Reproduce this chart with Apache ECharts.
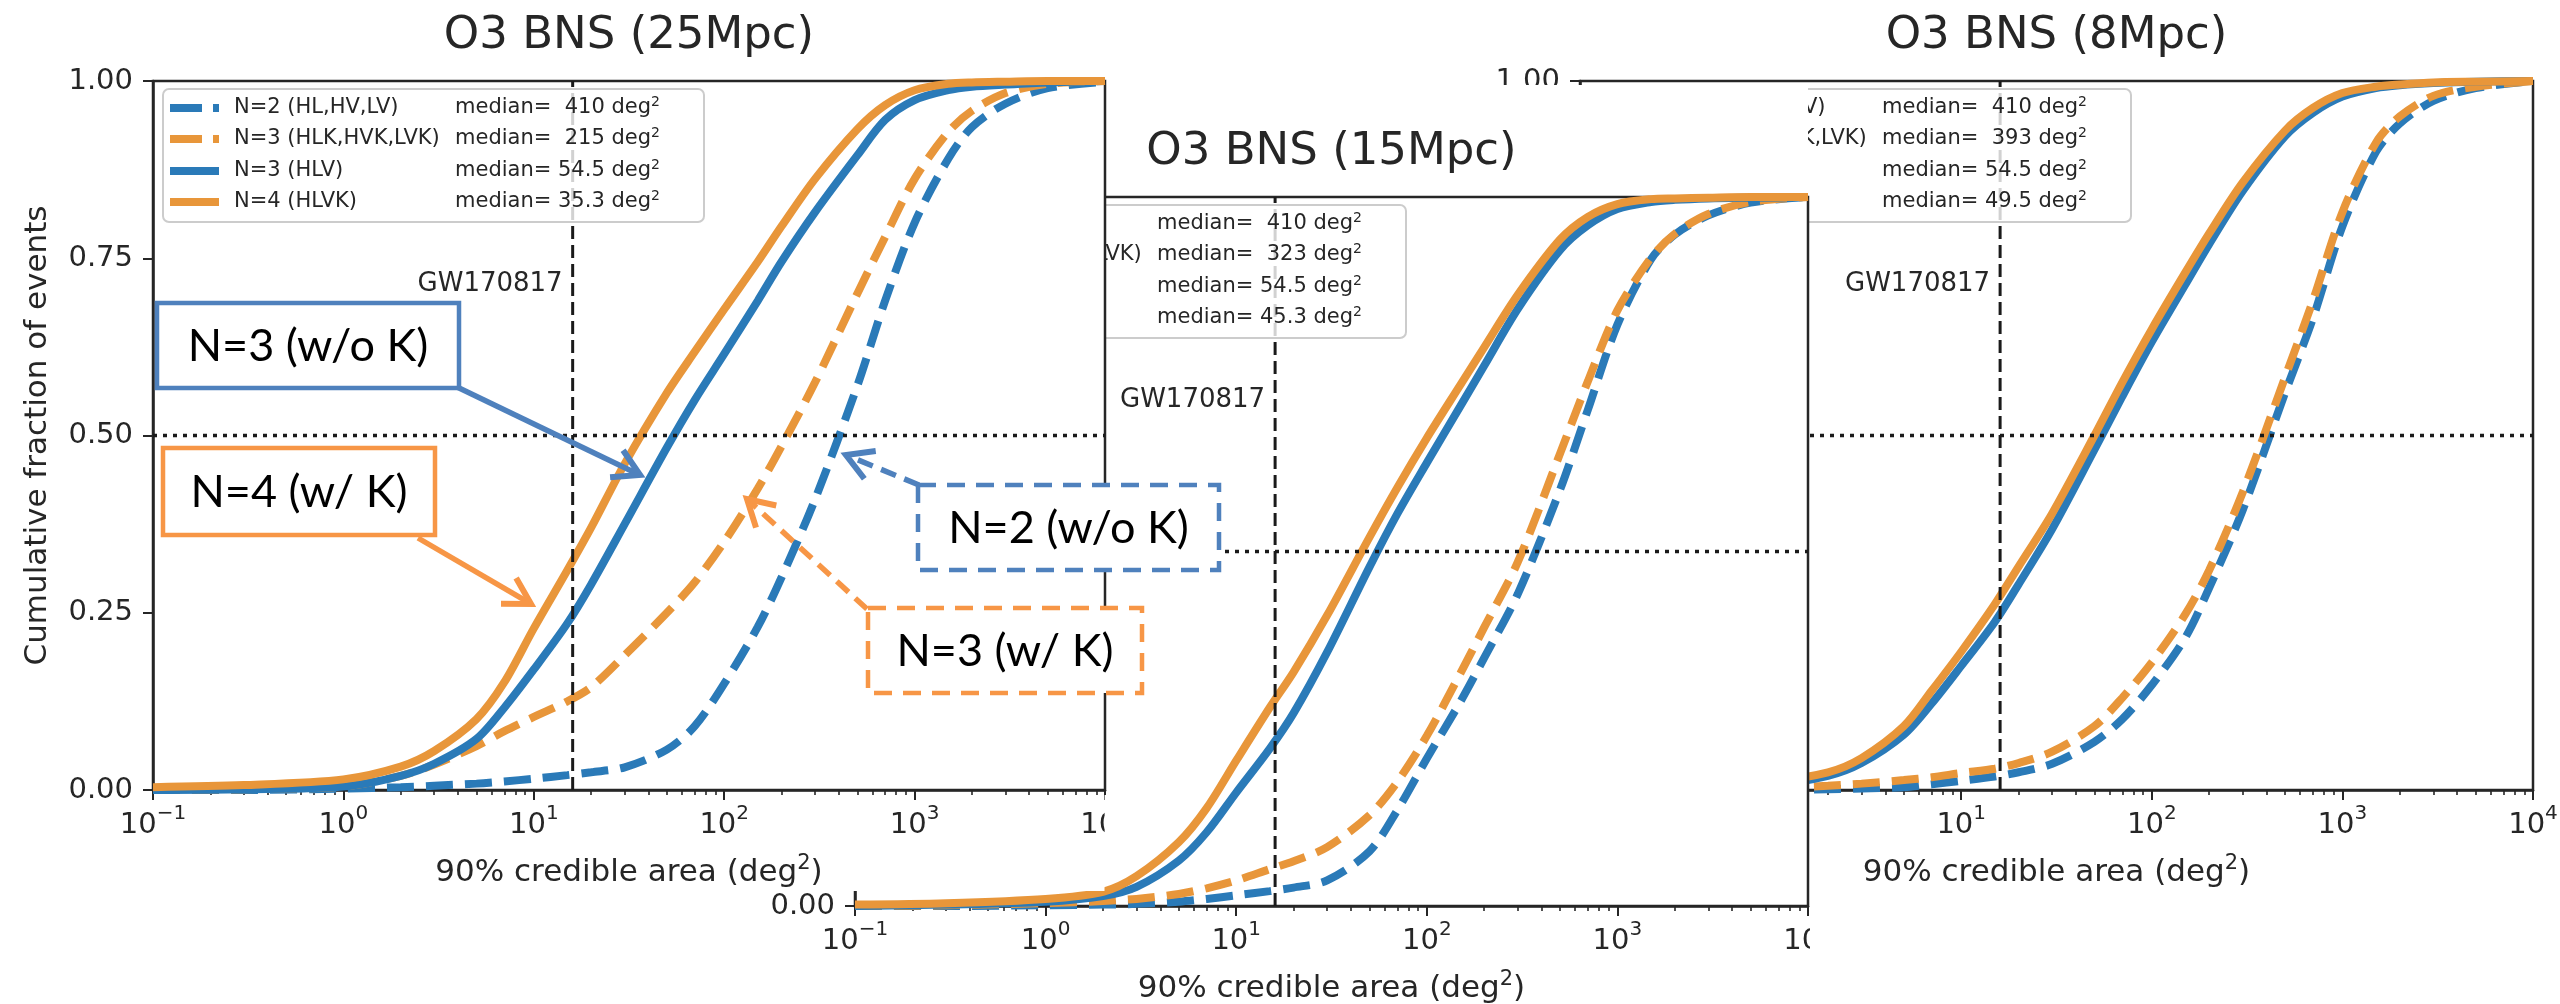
<!DOCTYPE html>
<html><head><meta charset="utf-8">
<script src="https://cdn.jsdelivr.net/npm/echarts@6/dist/echarts.min.js"></script>
<style>html,body{margin:0;padding:0;background:#fff}#c{width:2560px;height:1004px}</style>
</head><body><div id="c"></div>
<script>
// ---------------- data ----------------
const areas = [0.1, 0.3, 1, 2, 3, 5, 7, 10, 15, 20, 30, 50, 70, 100, 150, 200, 300, 500, 700, 1000, 1500, 2000, 3000, 5000, 10000];
const gwArea = 16;
const medianLevel = 0.5;
const titles = ['O3 BNS (25Mpc)', 'O3 BNS (15Mpc)', 'O3 BNS (8Mpc)'];
const legendLabels = ['N=2 (HL,HV,LV)', 'N=3 (HLK,HVK,LVK)', 'N=3 (HLV)', 'N=4 (HLVK)'];
const med25 = ['410', '215', '54.5', '35.3'];
const med15 = ['410', '323', '54.5', '45.3'];
const med8  = ['410', '393', '54.5', '49.5'];
const xTickValues = [0.1, 1, 10, 100, 1000, 10000];
const yTickValues = [0, 0.25, 0.5, 0.75, 1];
// 25 Mpc
const p25_N2  = [0, 0, 0.002, 0.004, 0.006, 0.009, 0.012, 0.016, 0.021, 0.025, 0.032, 0.057, 0.09, 0.15, 0.23, 0.3, 0.41, 0.57, 0.69, 0.8, 0.89, 0.935, 0.968, 0.99, 0.999];
const p25_N3K = [0, 0.001, 0.005, 0.02, 0.036, 0.062, 0.083, 0.103, 0.125, 0.145, 0.19, 0.25, 0.293, 0.35, 0.425, 0.485, 0.575, 0.7, 0.78, 0.862, 0.928, 0.958, 0.983, 0.996, 1.0];
const p25_N3  = [0, 0.001, 0.005, 0.02, 0.037, 0.072, 0.116, 0.17, 0.235, 0.29, 0.375, 0.483, 0.55, 0.615, 0.69, 0.745, 0.815, 0.895, 0.945, 0.973, 0.987, 0.992, 0.995, 0.998, 1.0];
const p25_N4  = [0.004, 0.007, 0.015, 0.033, 0.055, 0.1, 0.152, 0.228, 0.31, 0.37, 0.46, 0.56, 0.618, 0.678, 0.745, 0.795, 0.862, 0.932, 0.966, 0.987, 0.996, 0.998, 0.999, 1.0, 1.0];
// 15 Mpc
const p15_N2  = [0, 0, 0.001, 0.002, 0.003, 0.006, 0.01, 0.015, 0.021, 0.026, 0.036, 0.077, 0.135, 0.208, 0.288, 0.35, 0.44, 0.587, 0.7, 0.82, 0.912, 0.947, 0.974, 0.992, 1.0];
const p15_N3K = [0, 0.001, 0.004, 0.007, 0.01, 0.017, 0.025, 0.036, 0.052, 0.063, 0.083, 0.128, 0.175, 0.24, 0.328, 0.393, 0.485, 0.638, 0.74, 0.84, 0.914, 0.948, 0.976, 0.993, 1.0];
const p15_N3  = [0, 0.002, 0.006, 0.014, 0.027, 0.064, 0.104, 0.16, 0.222, 0.272, 0.358, 0.478, 0.553, 0.625, 0.705, 0.762, 0.842, 0.925, 0.96, 0.983, 0.993, 0.996, 0.998, 0.999, 1.0];
const p15_N4  = [0.002, 0.004, 0.01, 0.02, 0.042, 0.09, 0.138, 0.205, 0.28, 0.33, 0.41, 0.52, 0.59, 0.66, 0.735, 0.788, 0.862, 0.94, 0.972, 0.99, 0.997, 0.998, 0.999, 1.0, 1.0];
// 8 Mpc
const p8_N2  = [0, 0, 0, 0.001, 0.002, 0.004, 0.008, 0.013, 0.019, 0.025, 0.037, 0.068, 0.1, 0.148, 0.215, 0.285, 0.395, 0.56, 0.665, 0.795, 0.9, 0.94, 0.972, 0.99, 1.0];
const p8_N3K = [0, 0.001, 0.002, 0.006, 0.009, 0.014, 0.018, 0.024, 0.03, 0.038, 0.054, 0.09, 0.13, 0.18, 0.248, 0.31, 0.42, 0.582, 0.69, 0.815, 0.913, 0.95, 0.979, 0.992, 1.0];
const p8_N3  = [0, 0.002, 0.007, 0.02, 0.038, 0.078, 0.122, 0.175, 0.237, 0.29, 0.368, 0.48, 0.555, 0.632, 0.713, 0.77, 0.845, 0.922, 0.955, 0.978, 0.99, 0.994, 0.997, 0.999, 1.0];
const p8_N4  = [0.003, 0.005, 0.012, 0.025, 0.045, 0.09, 0.14, 0.195, 0.262, 0.315, 0.39, 0.5, 0.575, 0.65, 0.73, 0.785, 0.857, 0.93, 0.962, 0.983, 0.992, 0.995, 0.998, 0.999, 1.0];
const annTexts = ['N=3 (w/o K)', 'N=4 (w/ K)', 'N=2 (w/o K)', 'N=3 (w/ K)'];

// ---------------- layout / style ----------------
const ink = '#262626';
const FONT = 'DejaVu Sans';
const BLUE = '#2a7ab8', ORANGE = '#e8963a';
const ABLUE = '#4f81bd', AORANGE = '#f79646';
const sty = [{c: BLUE, d: true}, {c: ORANGE, d: true}, {c: BLUE, d: false}, {c: ORANGE, d: false}];
const DASH = [27, 12];
const LW = 8;
const G = [
  {left: 153, top: 81, w: 952, h: 709, zb: 11},
  {left: 855, top: 197, w: 953, h: 709, zb: 6},
  {left: 1580, top: 81, w: 953, h: 709, zb: 1}
];
const panelData = [
  {series: [p25_N2, p25_N3K, p25_N3, p25_N4], med: med25},
  {series: [p15_N2, p15_N3K, p15_N3, p15_N4], med: med15},
  {series: [p8_N2, p8_N3K, p8_N3, p8_N4], med: med8}
];
const minorVals = [];
[0.1, 1, 10, 100, 1000].forEach(d => { for (let k = 2; k <= 9; k++) minorVals.push(d * k); });

const supRich = {
  b: {fontSize: 29, fontFamily: FONT, color: ink, lineHeight: 36, verticalAlign: 'bottom'},
  s: {fontSize: 20, fontFamily: FONT, color: ink, lineHeight: 20, verticalAlign: 'top'}
};

const grids = [], xAxes = [], yAxes = [], series = [];
G.forEach((g, i) => {
  const zb = g.zb;
  grids.push({left: g.left, top: g.top, width: g.w, height: g.h, show: true, borderColor: ink, borderWidth: 2.5,
    backgroundColor: 'rgba(0,0,0,0)', containLabel: false, outerBoundsMode: 'none', z: zb});
  xAxes.push({type: 'log', logBase: 10, gridIndex: i, min: 0.1, max: 10000, position: 'bottom', z: zb,
    axisLine: {show: true, onZero: false, lineStyle: {color: ink, width: 2.5}},
    axisTick: {show: true, inside: false, length: 10, lineStyle: {color: ink, width: 2}, customValues: xTickValues},
    minorTick: {show: false}, splitLine: {show: false},
    axisLabel: {show: true, margin: 14, customValues: xTickValues,
      formatter: v => { const e = Math.round(Math.log10(v)); return '{b|10}{s|' + (e < 0 ? '\u2212' + (-e) : e) + '}'; },
      rich: supRich},
    name: '90% credible area (deg{s|2})', nameLocation: 'middle', nameGap: 63,
    nameTextStyle: {fontSize: 31, fontFamily: FONT, color: ink, lineHeight: 40,
      rich: {s: {fontSize: 21, fontFamily: FONT, color: ink, lineHeight: 22, verticalAlign: 'top'}}}
  });
  xAxes.push({type: 'log', logBase: 10, gridIndex: i, min: 0.1, max: 10000, position: 'bottom', z: zb,
    axisLine: {show: false}, axisLabel: {show: false}, splitLine: {show: false},
    axisTick: {show: true, inside: false, length: 5, lineStyle: {color: ink, width: 1.6}, customValues: minorVals}
  });
  yAxes.push({type: 'value', gridIndex: i, min: 0, max: 1, interval: 0.25, z: zb,
    axisLine: {show: true, onZero: false, lineStyle: {color: ink, width: 2.5}},
    axisTick: {show: true, inside: false, length: 10, lineStyle: {color: ink, width: 2}},
    splitLine: {show: false},
    axisLabel: {margin: 20, fontSize: 29, fontFamily: FONT, color: ink, formatter: v => v.toFixed(2)},
    name: 'Cumulative fraction of events', nameLocation: 'middle', nameGap: 100, nameRotate: 90,
    nameTextStyle: {fontSize: 31, fontFamily: FONT, color: ink}
  });
  panelData[i].series.forEach((ys, k) => {
    series.push({type: 'line', name: legendLabels[k], xAxisIndex: 2 * i, yAxisIndex: i, z: zb + 1,
      data: areas.map((a, j) => [a, ys[j]]), showSymbol: false, symbol: 'none', smooth: 0.3,
      lineStyle: {color: sty[k].c, width: LW, type: sty[k].d ? DASH : 'solid', cap: 'butt'}, clip: true, silent: true});
  });
  series.push({type: 'line', xAxisIndex: 2 * i, yAxisIndex: i, z: zb + 2, data: [[gwArea, 0], [gwArea, 1]],
    showSymbol: false, symbol: 'none', lineStyle: {color: '#1a1a1a', width: 3, type: [13, 6]}, silent: true});
  series.push({type: 'line', xAxisIndex: 2 * i, yAxisIndex: i, z: zb + 2, data: [[0.1, medianLevel], [10000, medianLevel]],
    showSymbol: false, symbol: 'none', lineStyle: {color: '#1a1a1a', width: 3.5, type: [4, 6]}, silent: true});
});

const chart = echarts.init(document.getElementById('c'), null, {renderer: 'canvas'});
chart.setOption({animation: false, backgroundColor: '#fff', grid: grids, xAxis: xAxes, yAxis: yAxes, series: series});

// ---------------- graphics ----------------
const els = [];
function pad5(m) { return ' '.repeat(Math.max(0, 5 - m.length)) + m; }
function legendEls(i) {
  const g = G[i], z = g.zb + 3, bx = g.left + 10, by = g.top + 8;
  els.push({type: 'rect', z, silent: true, shape: {x: bx, y: by, width: 541, height: 133, r: 6},
    style: {fill: 'rgba(255,255,255,0.8)', stroke: '#cccccc', lineWidth: 2}});
  const rows = [27, 58, 90, 121];
  for (let k = 0; k < 4; k++) {
    const y = g.top + rows[k];
    els.push({type: 'line', z, silent: true, shape: {x1: bx + 7, y1: y, x2: bx + 56, y2: y},
      style: {stroke: sty[k].c, lineWidth: LW, lineDash: sty[k].d ? [32, 11] : null}});
    els.push({type: 'text', z, silent: true, style: {x: bx + 71, y: y, text: legendLabels[k],
      font: '21px "DejaVu Sans"', fill: ink, textVerticalAlign: 'middle'}});
    els.push({type: 'text', z, silent: true, style: {x: bx + 292, y: y,
      text: '{a|median=' + pad5(panelData[i].med[k]) + ' deg}{s|2}',
      rich: {a: {fontSize: 21, fontFamily: FONT, fill: ink, lineHeight: 26},
             s: {fontSize: 14, fontFamily: FONT, fill: ink, lineHeight: 15, verticalAlign: 'top'}},
      textVerticalAlign: 'middle'}});
  }
  const gx = chart.convertToPixel({xAxisIndex: 2 * i}, gwArea);
  const gy = chart.convertToPixel({yAxisIndex: i}, 0.714);
  els.push({type: 'text', z, silent: true, style: {x: gx - 10, y: gy, text: 'GW170817',
    font: '26px "DejaVu Sans"', fill: ink, textAlign: 'right', textVerticalAlign: 'middle'}});
  els.push({type: 'text', z: 20, silent: true, style: {x: g.left + g.w / 2, y: g.top - 45, text: titles[i],
    font: '45px "DejaVu Sans"', fill: ink, textAlign: 'center', textVerticalAlign: 'middle'}});
}
[0, 1, 2].forEach(legendEls);

// occluding sheets (panel 2 pasted over panel 3, panel 1 over panel 2)
els.push({type: 'rect', z: 5, silent: true, shape: {x: 1440, y: 85, width: 368, height: 919}, style: {fill: '#fff'}});
els.push({type: 'rect', z: 10, silent: true, shape: {x: 640, y: 60, width: 464.5, height: 831}, style: {fill: '#fff'}});
els.push({type: 'rect', z: 10, silent: true, shape: {x: 1810, y: 900, width: 60, height: 104}, style: {fill: '#fff'}});
els.push({type: 'rect', z: 15, silent: true, shape: {x: 1104.6, y: 795, width: 40, height: 50}, style: {fill: '#fff'}});

// annotation boxes and arrows
function arrow(S, T, color, dash) {
  const dx = T[0] - S[0], dy = T[1] - S[1], L = Math.hypot(dx, dy), ux = dx / L, uy = dy / L;
  const a = Math.PI / 6, h = 30, c = Math.cos(a), s = Math.sin(a);
  const p1 = [T[0] - h * (ux * c - uy * s), T[1] - h * (uy * c + ux * s)];
  const p2 = [T[0] - h * (ux * c + uy * s), T[1] - h * (uy * c - ux * s)];
  els.push({type: 'line', z: 20, silent: true, shape: {x1: S[0], y1: S[1], x2: T[0] - ux * 3, y2: T[1] - uy * 3},
    style: {stroke: color, lineWidth: 5.5, lineDash: dash ? [16, 9] : null}});
  els.push({type: 'polyline', z: 20, silent: true, shape: {points: [p1, T, p2]},
    style: {stroke: color, lineWidth: 6, fill: null, lineJoin: 'miter'}});
}
function box(x, y, w, h, color, dash, text) {
  els.push({type: 'rect', z: 20, silent: true, shape: {x, y, width: w, height: h},
    style: {fill: '#fff', stroke: color, lineWidth: 4.5, lineDash: dash ? [18, 11] : null}});
  els.push({type: 'text', z: 21, silent: true, style: {x: x + w / 2, y: y + h / 2 + 1, text,
    font: '45px Lato', fill: '#000', textAlign: 'center', textVerticalAlign: 'middle'}});
}
arrow([457, 387], [640, 475], ABLUE, false);
arrow([418, 538], [531, 604], AORANGE, false);
arrow([919, 485], [846, 455], ABLUE, true);
arrow([867, 609], [747, 499], AORANGE, true);
box(157, 303, 302, 85, ABLUE, false, annTexts[0]);
box(163, 448, 272, 87, AORANGE, false, annTexts[1]);
box(918, 485, 301, 85, ABLUE, true, annTexts[2]);
box(868, 608, 274, 85, AORANGE, true, annTexts[3]);

chart.setOption({graphic: {elements: els}});
</script></body></html>
